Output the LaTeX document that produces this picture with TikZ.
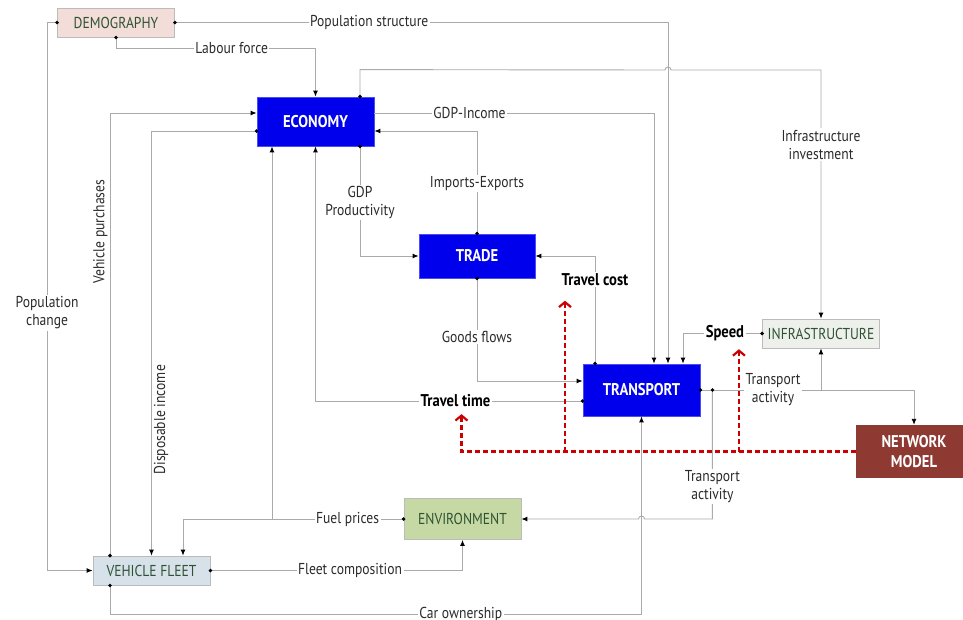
\documentclass[tikz,border=0pt]{standalone}
\usepackage{fontspec}
\setmainfont{PT Sans}[FakeStretch=0.86]
\usetikzlibrary{arrows.meta}

\definecolor{linegray}{HTML}{AAAAAA}
\definecolor{labeltext}{HTML}{2B2B2B}
\definecolor{boxgreen}{HTML}{2F5233}
\definecolor{coreblue}{RGB}{0,0,236}
\definecolor{demofill}{HTML}{F2DDD8}
\definecolor{infrafill}{HTML}{EEF0EC}
\definecolor{envfill}{HTML}{C6D9A5}
\definecolor{vffill}{HTML}{D6E1EA}
\definecolor{netfill}{HTML}{8E3A33}
\definecolor{dashred}{HTML}{CC0000}

\newcommand\lblfont{\fontsize{15.8}{18}\selectfont}
\newcommand\boldlblfont{\fontsize{17}{19.5}\selectfont\bfseries}

\begin{document}
\begin{tikzpicture}[x=1pt,y=-1pt,
  pastelbox/.style={draw=linegray!80, line width=0.8pt, inner sep=0pt,
    minimum width=117pt, minimum height=29pt, text=boxgreen, font=\lblfont},
  corebox/.style={draw=coreblue!70!white, line width=0.8pt, fill=coreblue, inner sep=0pt,
    minimum width=117pt, text=white, font=\boldlblfont},
  netbox/.style={fill=netfill, inner sep=0pt, minimum width=116pt, minimum height=53pt,
    text=white, font=\boldlblfont, align=center},
  conn/.style={draw=linegray, line width=0.9pt},
  arr/.style={conn, -{Latex[length=6pt,width=5pt,black]}},
  lbl/.style={fill=white, inner sep=1.5pt, text=labeltext, font=\lblfont},
  sidelbl/.style={inner sep=2pt, text=labeltext, font=\lblfont},
  blbl/.style={fill=white, inner sep=1.5pt, text=black, font=\boldlblfont},
  redarr/.style={draw=dashred, line width=2.4pt, dash pattern=on 5pt off 3pt,
    -{Straight Barb[length=5pt,width=12pt,line width=2.2pt]}},
  dot/.style={fill=black}
]
\useasboundingbox (0,0) rectangle (963,619);

% blocks
\node[pastelbox, fill=demofill] (demo) at (116,22.5) {DEMOGRAPHY};
\node[corebox, minimum height=49pt] (econ) at (315.5,121.5) {ECONOMY};
\node[corebox, minimum width=116pt, minimum height=44pt] (trade) at (477,256) {TRADE};
\node[corebox, minimum height=52pt] (trans) at (641.5,390) {TRANSPORT};
\node[pastelbox, fill=infrafill] (infra) at (821,333.5) {INFRASTRUCTURE};
\node[netbox] (net) at (914,451.5) {NETWORK\\MODEL};
\node[pastelbox, fill=envfill, minimum height=41pt] (env) at (462.5,519) {ENVIRONMENT};
\node[pastelbox, fill=vffill] (vf) at (151.5,570.5) {VEHICLE FLEET};

% connection points on the block edges
\coordinate (econT)  at ([xshift=44.5pt]econ.north);
\coordinate (econB)  at ([xshift=44.5pt]econ.south);
\coordinate (econB2) at ([xshift=-43.5pt]econ.south);
\coordinate (econR1) at ([yshift=8.5pt]econ.east);
\coordinate (econR2) at ([yshift=-9.5pt]econ.east);
\coordinate (econL1) at ([yshift=8.5pt]econ.west);
\coordinate (econL2) at ([yshift=-9.5pt]econ.west);
\coordinate (transT)  at ([xshift=-46.5pt]trans.north);
\coordinate (transGI) at ([xshift=12.5pt]trans.north);
\coordinate (transPS) at ([xshift=26.5pt]trans.north);
\coordinate (transSp) at ([xshift=41.5pt]trans.north);
\coordinate (transL1) at ([yshift=9pt]trans.west);
\coordinate (transL2) at ([yshift=-11pt]trans.west);
\coordinate (transR2) at ([xshift=12pt]trans.east);
\coordinate (vfT)  at ([xshift=-41.5pt]vf.north);
\coordinate (vfT2) at ([xshift=31.5pt]vf.north);
\coordinate (vfB)  at ([xshift=-41.5pt]vf.south);
% line hops
\coordinate (hopA) at (665,70);
\coordinate (hopB) at (644.5,519);

% demography links
\draw[arr] (demo.east) -| node[lbl,pos=0.197]{Population structure} (transPS);
\draw[arr] (demo.south) -- ++(0,11) -| node[lbl,pos=0.29]{Labour force} (econ.north);
\draw[arr] (demo.west) -- ++(-10,0) |- node[lbl,pos=0.265,align=center]{Population\\change} (vf.west);

% economy links
\draw[arr] (econT) -- ++(0,-27) -- (hopA) arc[start angle=180,end angle=0,radius=3pt]
  -| node[lbl,pos=0.65,align=center]{Infrastructure\\investment} (infra.north);
\draw[arr] (econR1) -| node[lbl,pos=0.17]{GDP-Income} (transGI);
\draw[arr] (trade.north) |- node[lbl,pos=0.243]{Imports-Exports} (econR2);
\draw[arr] (econB) |- node[lbl,pos=0.255,align=center]{GDP\\Productivity} (trade.west);
\draw[arr] (trade.south) |- node[lbl,pos=0.285]{Goods flows} (transL1);
\draw[arr] (transT) |- node[blbl,pos=0.39] (tc) {Travel cost} (trade.east);
\draw[arr] (transL2) -| node[blbl,pos=0.238] (tt) {Travel time} (econ.south);
\draw[arr] (infra.west) -| node[blbl,pos=0.235] (sp) {Speed} (transSp);

% transport activity
\draw[arr] (trans.east) -| node[lbl,pos=0.17,align=center]{Transport\\activity} (net.north);
\draw[arr] (infra.south |- trans.east) -- (infra.south);
\draw[arr] (transR2) -- node[lbl,pos=0.75,align=center]{Transport\\activity} ++(0,129)
  -- (hopB) arc[start angle=0,end angle=180,radius=3pt] -- (env.east);

% environment and fleet
\draw[arr] (env.west) -| node[lbl,pos=0.127]{Fuel prices} (vfT2);
\draw[arr] (econB2 |- env.west) -- (econB2);
\draw[arr] (vf.east) -| node[lbl,pos=0.277]{Fleet composition} (env.south);
\draw[arr] (vfB) -- ++(0,29) -| node[lbl,pos=0.33]{Car ownership} (trans.south);
\draw[arr] (vfT) |- node[sidelbl,rotate=90,anchor=south,pos=0.366]{Vehicle purchases} (econL1);
\draw[arr] (econL2) -| node[sidelbl,rotate=90,anchor=north,pos=0.84]{Disposable income} (vf.north);

% start dots
\foreach \p in {demo.east,demo.south,demo.west,econT,econB,econL2,trade.north,trade.south,
                transT,transL2,trans.east,transR2,infra.west,env.west,vf.east,vfT,vfB}
  \fill[dot] (\p) circle[radius=1.9pt];

% network model feedback
\coordinate (ttA) at ([xshift=6pt,yshift=-5pt]tt.south);
\coordinate (tcA) at ([xshift=-30pt,yshift=-13pt]tc.south);
\coordinate (spA) at ([xshift=14pt,yshift=-6pt]sp.south);
\draw[redarr] (net.west) -| (ttA);
\draw[redarr] (tcA |- net.west) -- (tcA);
\draw[redarr] (spA |- net.west) -- (spA);
\end{tikzpicture}
\end{document}
